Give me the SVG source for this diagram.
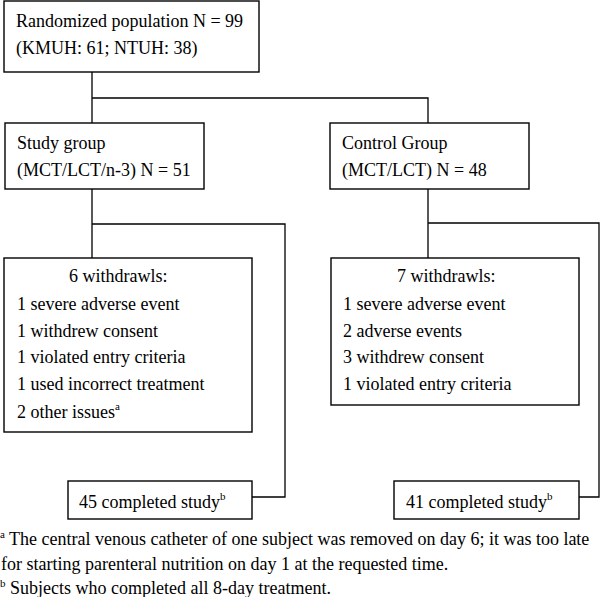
<svg xmlns="http://www.w3.org/2000/svg" width="600" height="597" viewBox="0 0 600 597">
<style>
.b{fill:#fff;stroke:#000;stroke-width:1.4}
.c{fill:none;stroke:#000;stroke-width:1.3}
text{font-family:"Liberation Serif","Times New Roman",serif;font-size:18px;fill:#000}
.s{font-size:11px}
</style>
<rect width="600" height="597" fill="#fff"/>
<g id="connectors">
<path class="c" d="M92 72V123M92 98H428V123"/>
<path class="c" d="M92 189V258M92 224H285V497H252"/>
<path class="c" d="M428 189V258M428 223H599V497H579"/>
</g>
<g id="randomized">
<rect class="b" x="4" y="1" width="255" height="71"/>
<text x="16" y="27">Randomized population N = 99</text>
<text x="16" y="54">(KMUH: 61; NTUH: 38)</text>
</g>
<g id="study">
<rect class="b" x="5" y="123" width="199" height="66"/>
<text x="17" y="149">Study group</text>
<text x="17" y="176">(MCT/LCT/n-3) N = 51</text>
</g>
<g id="control">
<rect class="b" x="330" y="123" width="199" height="66"/>
<text x="342" y="149">Control Group</text>
<text x="342" y="176">(MCT/LCT) N = 48</text>
</g>
<g id="study-withdrawals">
<rect class="b" x="4" y="258" width="248" height="174"/>
<text x="69" y="282">6 withdrawls:</text>
<text x="17" y="310">1 severe adverse event</text>
<text x="17" y="337">1 withdrew consent</text>
<text x="17" y="363">1 violated entry criteria</text>
<text x="17" y="390">1 used incorrect treatment</text>
<text x="17" y="418">2 other issues<tspan class="s" dy="-8">a</tspan></text>
</g>
<g id="control-withdrawals">
<rect class="b" x="331" y="258" width="248" height="147"/>
<text x="397" y="282">7 withdrawls:</text>
<text x="343" y="310">1 severe adverse event</text>
<text x="343" y="337">2 adverse events</text>
<text x="343" y="363">3 withdrew consent</text>
<text x="343" y="390">1 violated entry criteria</text>
</g>
<g id="study-completed">
<rect class="b" x="68" y="481" width="184" height="38"/>
<text x="79" y="508">45 completed study<tspan class="s" dy="-8">b</tspan></text>
</g>
<g id="control-completed">
<rect class="b" x="394" y="481" width="185" height="38"/>
<text x="406" y="508">41 completed study<tspan class="s" dy="-8">b</tspan></text>
</g>
<g id="footnotes">
<text x="0" y="545"><tspan class="s" dy="-7">a</tspan><tspan dy="7"> The central venous catheter of one subject was removed on day 6; it was too late</tspan></text>
<text x="1" y="570">for starting parenteral nutrition on day 1 at the requested time.</text>
<text x="0" y="594"><tspan class="s" dy="-7">b</tspan><tspan dy="7"> Subjects who completed all 8-day treatment.</tspan></text>
</g>
</svg>
